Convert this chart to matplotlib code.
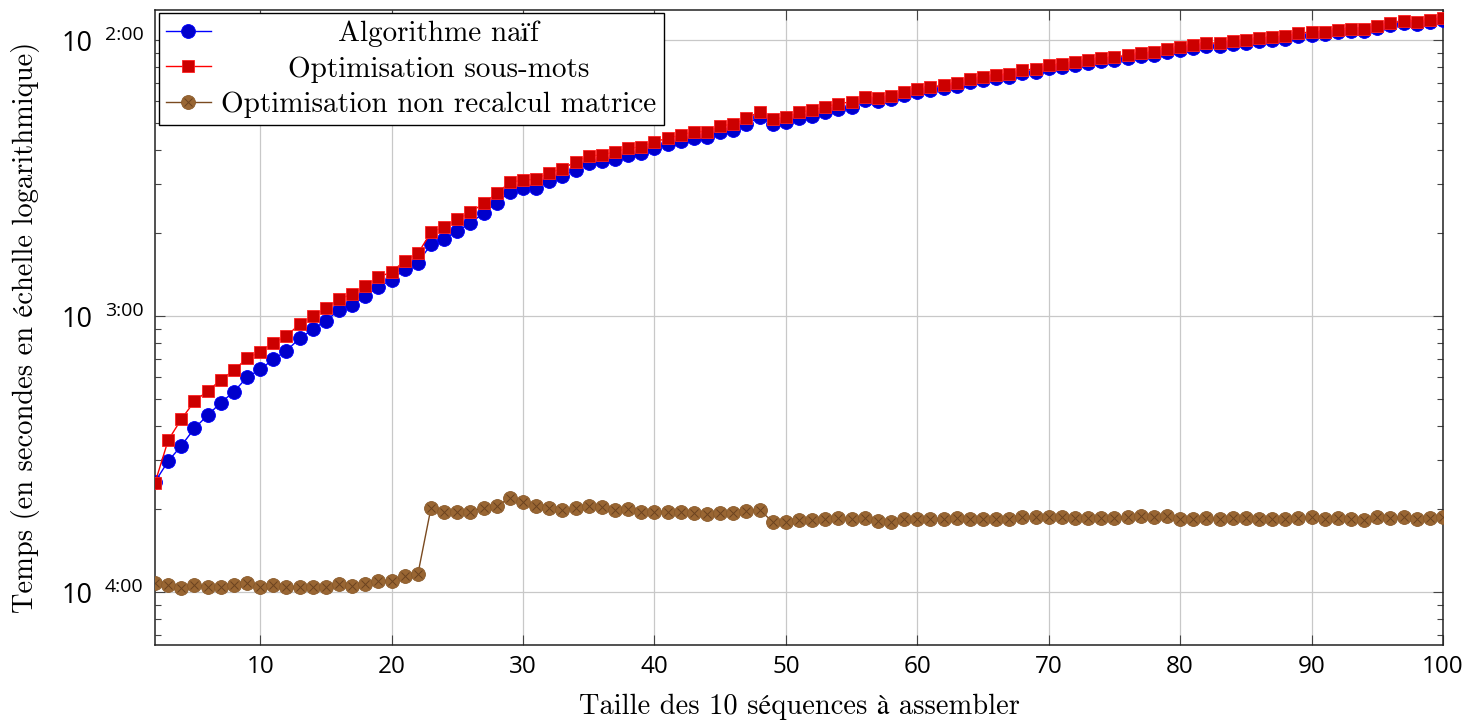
import matplotlib
matplotlib.use('Agg')

import matplotlib.pyplot as plt
from matplotlib.ticker import LogLocator, NullFormatter
from matplotlib.transforms import ScaledTranslation

# ── Données (temps en secondes) ───────────────────────────────────────────────
tailles = list(range(2, 101))

temps_naif = [
    0.000251, 0.000298, 0.000339, 0.000392, 0.000437, 0.000485, 0.000532, 0.000600, 0.000641, 0.000697,
    0.000749, 0.000830, 0.000895, 0.000962, 0.001051, 0.001096, 0.001182, 0.001277, 0.001350, 0.001477,
    0.001560, 0.001819, 0.001901, 0.002037, 0.002167, 0.002367, 0.002573, 0.002821, 0.002902, 0.002905,
    0.003092, 0.003224, 0.003372, 0.003575, 0.003653, 0.003696, 0.003831, 0.003905, 0.004051, 0.004200,
    0.004306, 0.004404, 0.004441, 0.004630, 0.004720, 0.004950, 0.005273, 0.004945, 0.005033, 0.005204,
    0.005318, 0.005471, 0.005609, 0.005732, 0.006047, 0.006026, 0.006113, 0.006337, 0.006464, 0.006574,
    0.006700, 0.006796, 0.007026, 0.007181, 0.007284, 0.007344, 0.007594, 0.007657, 0.007897, 0.007984,
    0.008138, 0.008254, 0.008414, 0.008442, 0.008606, 0.008728, 0.008802, 0.009025, 0.009177, 0.009355,
    0.009489, 0.009537, 0.009697, 0.009753, 0.009893, 0.009975, 0.010085, 0.010314, 0.010452, 0.010543,
    0.010690, 0.010780, 0.010784, 0.011053, 0.011305, 0.011553, 0.011457, 0.011620, 0.011786,
]

temps_sous_mots = [
    0.000249, 0.000355, 0.000423, 0.000491, 0.000535, 0.000586, 0.000637, 0.000703, 0.000742, 0.000800,
    0.000846, 0.000935, 0.001000, 0.001066, 0.001152, 0.001202, 0.001284, 0.001381, 0.001447, 0.001582,
    0.001687, 0.002010, 0.002106, 0.002241, 0.002376, 0.002560, 0.002783, 0.003051, 0.003110, 0.003128,
    0.003305, 0.003417, 0.003623, 0.003809, 0.003831, 0.003938, 0.004051, 0.004106, 0.004281, 0.004404,
    0.004527, 0.004653, 0.004655, 0.004880, 0.004962, 0.005204, 0.005498, 0.005173, 0.005247, 0.005471,
    0.005577, 0.005732, 0.005878, 0.005977, 0.006200, 0.006179, 0.006268, 0.006497, 0.006628, 0.006740,
    0.006870, 0.006968, 0.007204, 0.007363, 0.007468, 0.007530, 0.007786, 0.007851, 0.008097, 0.008186,
    0.008344, 0.008463, 0.008627, 0.008656, 0.008824, 0.008949, 0.009025, 0.009253, 0.009409, 0.009592,
    0.009729, 0.009778, 0.009942, 0.010000, 0.010143, 0.010228, 0.010340, 0.010575, 0.010717, 0.010720,
    0.010870, 0.010961, 0.010965, 0.011239, 0.011495, 0.011747, 0.011650, 0.011816, 0.011984,
]

temps_non_recalcul = [
    0.0001075, 0.0001060, 0.0001037, 0.0001060, 0.0001045, 0.0001045, 0.0001060, 0.0001075, 0.0001045, 0.0001060,
    0.0001045, 0.0001045, 0.0001045, 0.0001045, 0.0001066, 0.0001054, 0.0001066, 0.0001096, 0.0001096, 0.0001146,
    0.0001162, 0.0002020, 0.0001944, 0.0001954, 0.0001954, 0.0002020, 0.0002054, 0.0002185, 0.0002124, 0.0002054,
    0.0002020, 0.0001982, 0.0002020, 0.0002054, 0.0002037, 0.0001982, 0.0001994, 0.0001954, 0.0001954, 0.0001944,
    0.0001944, 0.0001938, 0.0001917, 0.0001928, 0.0001928, 0.0001970, 0.0001982, 0.0001798, 0.0001798, 0.0001823,
    0.0001823, 0.0001839, 0.0001849, 0.0001839, 0.0001849, 0.0001808, 0.0001798, 0.0001834, 0.0001839, 0.0001834,
    0.0001839, 0.0001849, 0.0001834, 0.0001834, 0.0001839, 0.0001839, 0.0001865, 0.0001865, 0.0001874, 0.0001874,
    0.0001849, 0.0001859, 0.0001859, 0.0001859, 0.0001874, 0.0001885, 0.0001874, 0.0001890, 0.0001839, 0.0001834,
    0.0001849, 0.0001839, 0.0001849, 0.0001849, 0.0001839, 0.0001834, 0.0001839, 0.0001849, 0.0001874, 0.0001839,
    0.0001849, 0.0001839, 0.0001823, 0.0001865, 0.0001849, 0.0001865, 0.0001839, 0.0001849, 0.0001865,
]

noms_series = ["Algorithme naïf", "Optimisation sous-mots",
               "Optimisation non recalcul matrice"]

ticks_x = [10, 20, 30, 40, 50, 60, 70, 80, 90, 100]
ticks_y = [1e-2, 1e-3, 1e-4]
exposants_y = ["2:00", "3:00", "4:00"]

# ── Style ─────────────────────────────────────────────────────────────────────
SERIF = ['cmr10', 'STIXGeneral', 'DejaVu Serif']
SANS = ['Open Sans', 'DejaVu Sans']
plt.rcParams['axes.formatter.use_mathtext'] = True

fig = plt.figure(figsize=(14.81, 7.24), dpi=100)
ax = fig.add_axes([0.1047, 0.1091, 0.8696, 0.8771])

l_naif, = ax.plot(tailles, temps_naif, color='#0000ff', linewidth=1.0,
                  marker='o', markersize=10, markerfacecolor='#0000cc',
                  markeredgecolor='#0000ff', markeredgewidth=0.6, zorder=3)
l_sous, = ax.plot(tailles, temps_sous_mots, color='#ff0000', linewidth=1.0,
                  marker='s', markersize=9.3, markerfacecolor='#cc0000',
                  markeredgecolor='#ff2020', markeredgewidth=0.6, zorder=4)
l_nonr, = ax.plot(tailles, temps_non_recalcul, color='#7a4a20', linewidth=1.0,
                  marker='o', markersize=10, markerfacecolor='#996633',
                  markeredgecolor='#8a5a2a', markeredgewidth=0.6, zorder=3)
l_croix, = ax.plot(tailles, temps_non_recalcul, linestyle='none', marker='x',
                   markersize=6, markeredgecolor='#6b4320', markeredgewidth=0.7,
                   zorder=5)

ax.set_yscale('log')
ax.set_xlim(2, 100)
ax.set_ylim(10 ** -4.192, 10 ** -1.891)

ax.set_xticks(ticks_x)
ax.set_xticklabels([str(t) for t in ticks_x], family=SANS, fontsize=17.5)
ax.set_yticks(ticks_y)
ax.set_yticklabels(["10"] * len(ticks_y), family=SANS, fontsize=19.5)
ax.yaxis.set_minor_locator(LogLocator(base=10, subs=range(2, 10)))
ax.yaxis.set_minor_formatter(NullFormatter())

ax.tick_params(which='both', direction='in', top=True, right=True,
               color='#444444', width=0.8)
ax.tick_params(which='major', length=7)
ax.tick_params(which='minor', length=4.5)
ax.tick_params(axis='x', which='major', pad=7)
ax.tick_params(axis='y', which='major', pad=45)

ax.grid(True, which='major', color='#c8c8c8', linewidth=0.9)
ax.set_axisbelow(True)
for s in ax.spines.values():
    s.set_color('#222222')
    s.set_linewidth(1.1)

# exposants des étiquettes de l'axe y
decal = ScaledTranslation(0, 0.05, fig.dpi_scale_trans)
for val, lab in zip(ticks_y, exposants_y):
    ax.text(-0.0388, val, lab, transform=ax.get_yaxis_transform() + decal,
            ha='left', va='center', family=SANS, fontsize=14, clip_on=False)

ax.set_xlabel("Taille des 10 séquences à assembler", family=SERIF,
              fontsize=20.5, labelpad=11)
ax.set_ylabel("Temps (en secondes en échelle logarithmique)", family=SERIF,
              fontsize=20.5)
ax.yaxis.set_label_coords(-0.0895, 0.5)

# ── Légende (texte centré comme pgfplots) ─────────────────────────────────────
leg = ax.legend([l_naif, l_sous, (l_nonr, l_croix)], noms_series,
                loc='upper left', bbox_to_anchor=(0.0, 1.0), borderaxespad=0.12,
                prop={'family': SERIF, 'size': 21}, fancybox=False,
                framealpha=1, edgecolor='black', handlelength=1.55,
                handletextpad=0.35, labelspacing=0.3, borderpad=0.25)
leg.get_frame().set_linewidth(1.0)

fig.canvas.draw()
textes = leg.get_texts()
boites = [t.get_window_extent() for t in textes]
centre = (min(b.x0 for b in boites) + max(b.x1 for b in boites)) / 2
W, H = fig.bbox.width, fig.bbox.height
for t in textes:
    x0, y0 = t.get_transform().transform(t.get_position())
    t.set_visible(False)
    fig.text(centre / W, y0 / H, t.get_text(), ha='center', va='baseline',
             family=SERIF, fontsize=21, zorder=10)

fig.savefig('out.png', dpi=100)
